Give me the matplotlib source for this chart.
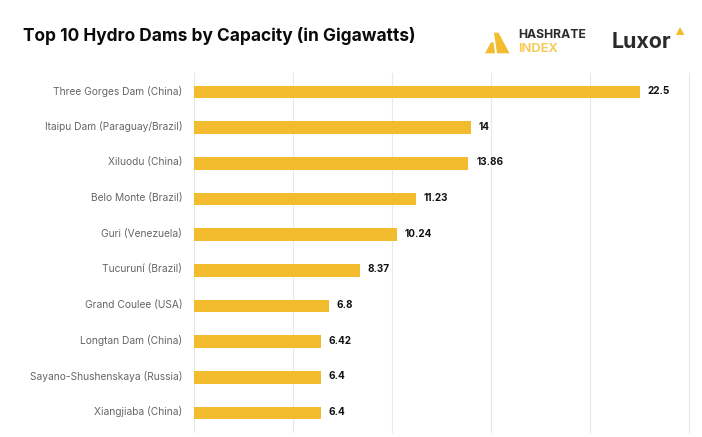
import matplotlib
matplotlib.use("Agg")
import matplotlib.pyplot as plt
from matplotlib.patches import Polygon
from matplotlib.transforms import ScaledTranslation

dams = ["Three Gorges Dam (China)", "Itaipu Dam (Paraguay/Brazil)", "Xiluodu (China)",
        "Belo Monte (Brazil)", "Guri (Venezuela)", "Tucuruní (Brazil)", "Grand Coulee (USA)",
        "Longtan Dam (China)", "Sayano-Shushenskaya (Russia)", "Xiangjiaba (China)"]
capacity = [22.5, 14, 13.86, 11.23, 10.24, 8.37, 6.8, 6.42, 6.4, 6.4]
grid_ticks = [0, 5, 10, 15, 20, 25]

W, H = 702, 437
GOLD = "#F2BC2E"
plt.rcParams["font.family"] = ["Inter", "DejaVu Sans"]
fig = plt.figure(figsize=(W / 100, H / 100), dpi=100, facecolor="white")
ax = fig.add_axes([194 / W, 1 - 432 / H, (689 - 194) / W, (432 - 73) / H])
ypos = list(range(len(dams)))
ax.barh(ypos, capacity, height=0.35, color=GOLD, zorder=3)
ax.set_xlim(0, 25)
ax.set_ylim(9.533, -0.533)
ax.set_xticks(grid_ticks)
ax.set_xticklabels([])
ax.set_yticks(ypos)
ax.set_yticklabels(dams, fontsize=7.35, color="#666666")
ax.tick_params(length=0, pad=8.5)
up = ScaledTranslation(0, 2 / 100, fig.dpi_scale_trans)
for lab in ax.get_yticklabels():
    lab.set_transform(lab.get_transform() + up)
ax.grid(axis="x", color="#E8E8E8", linewidth=0.8, zorder=0)
ax.grid(axis="y", visible=False)
for line in ax.get_xgridlines():
    line.set_clip_on(False)
for s in ax.spines.values():
    s.set_visible(False)
for y, v in zip(ypos, capacity):
    ax.annotate(f"{v:g}", (v, y), xytext=(5.5, 0.8), textcoords="offset points", va="center",
                fontsize=7.2, fontweight="bold", color="#111111")
fig.text(23 / W, 1 - 36 / H, "Top 10 Hydro Dams by Capacity (in Gigawatts)", fontsize=12.47,
         fontweight="bold", color="#0B0B0B", va="center", ha="left")

def px(points):
    return [(x / W, 1 - y / H) for x, y in points]

for pts in ([(485, 53.3), (491, 42.3), (493.5, 42.3), (495, 53.3)],
            [(494, 32.7), (498.5, 32.7), (509.5, 53.3), (497, 53.3)]):
    fig.add_artist(Polygon(px(pts), closed=True, color=GOLD, transform=fig.transFigure, lw=0))
fig.add_artist(Polygon(px([(676, 35), (680, 27), (684.5, 35)]), closed=True, color=GOLD,
                       transform=fig.transFigure, lw=0))
fig.text(518 / W, 1 - 35 / H, "HASHRATE", fontsize=8.8, fontweight="bold", color="#2B2B2B",
         va="center", ha="left")
fig.text(518 / W, 1 - 49.5 / H, "INDEX", fontsize=9.2, fontweight="bold", color="#F5CC5C",
         va="center", ha="left")
fig.text(612 / W, 1 - 41.5 / H, "Luxor", fontsize=15.4, fontweight="bold", color="#2B2B2B",
         va="center", ha="left")
fig.savefig("out.png", dpi=100)
